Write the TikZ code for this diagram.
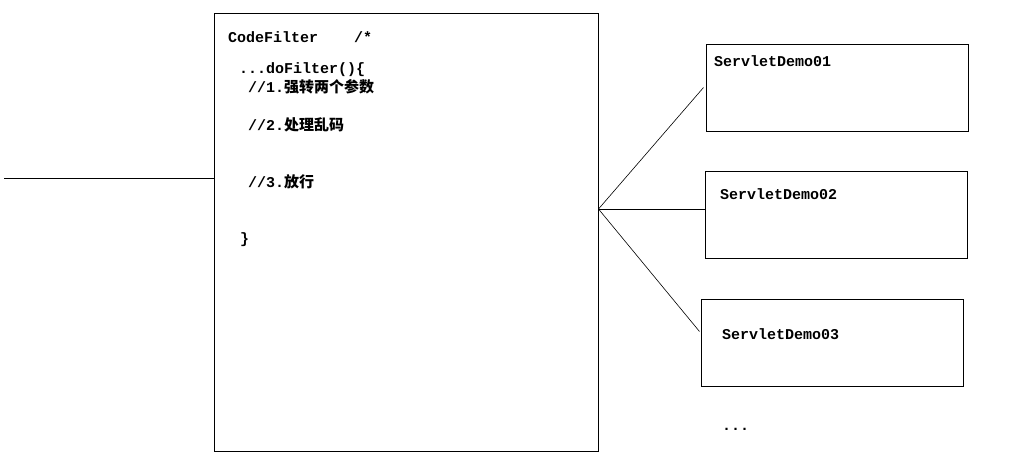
\documentclass[tikz,border=0pt]{standalone}
\usepackage{fontspec}
\setmonofont{Liberation Mono}
\newfontfamily\cjk{Noto Sans CJK SC}

\begin{document}
\begin{tikzpicture}[x=1pt,y=-1pt,
	box/.style={draw,line width=1pt,rectangle,inner sep=0pt},
	demo/.style={box,minimum width=262pt,minimum height=87pt},
	code/.style={anchor=base west,inner sep=0pt,font=\fontsize{15}{18}\selectfont\ttfamily\bfseries}]

	\useasboundingbox (0,0) rectangle (1017,475);

	\node[box,minimum width=384pt,minimum height=438pt] (filter) at (406,232) {};
	\node[demo] (demo1) at (837,87.5) {};
	\node[demo] (demo2) at (836,214.5) {};
	\node[demo] (demo3) at (832,342.5) {};

	\node[code] (name) at (228,42) {CodeFilter\ \ \ \ /*};
	\node[code] (method) at (239,73) {...doFilter()\{};
	\node[code] (step1) at (248,92) {//1.{\cjk 强转两个参数}};
	\node[code] (step2) at (248,130) {//2.{\cjk 处理乱码}};
	\node[code] (step3) at (248,187) {//3.{\cjk 放行}};
	\node[code] (close) at (240,243) {\}};

	\node[code] (lbl1) at (714,66) {ServletDemo01};
	\node[code] (lbl2) at (720,199) {ServletDemo02};
	\node[code] (lbl3) at (722,339) {ServletDemo03};
	\node[code] (more) at (722,430) {...};

	\coordinate (client) at (4,178);
	\coordinate (hub) at (filter.east |- 0,209);
	\draw[line width=1pt] (client) -- (client -| filter.west);
	\draw[line width=.6pt] (hub) -- ([xshift=-2pt]demo1.west);
	\draw[line width=1pt] (hub) -- (hub -| demo2.west);
	\draw[line width=.6pt] (hub) -- ([xshift=-1pt,yshift=11pt]demo3.west);
\end{tikzpicture}
\end{document}
